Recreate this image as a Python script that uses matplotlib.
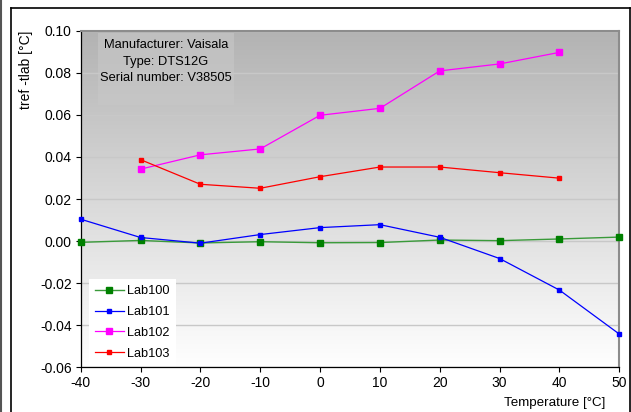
import numpy as np
import matplotlib
matplotlib.use("Agg")
import matplotlib.pyplot as plt
from matplotlib.patches import Rectangle
from matplotlib.lines import Line2D

plt.rcParams['font.family'] = ['Liberation Sans', 'DejaVu Sans']

temps = [-40, -30, -20, -10, 0, 10, 20, 30, 40, 50]
lab100 = [-0.0006, 0.0003, -0.0009, -0.0003, -0.0008, -0.0007, 0.0005, 0.0002, 0.0010, 0.0019]
lab101 = [0.0104, 0.0017, -0.0010, 0.0031, 0.0064, 0.0078, 0.0018, -0.0083, -0.0233, -0.0442]
temps_b = [-30, -20, -10, 0, 10, 20, 30, 40]
lab102 = [0.0342, 0.0410, 0.0438, 0.0598, 0.0631, 0.0809, 0.0842, 0.0897]
lab103 = [0.0387, 0.0270, 0.0251, 0.0306, 0.0352, 0.0352, 0.0325, 0.0299]
info_lines = ["Manufacturer: Vaisala", "Type: DTS12G", "Serial number: V38505"]
xticks = list(range(-40, 51, 10))
yticks = [-0.06, -0.04, -0.02, 0.00, 0.02, 0.04, 0.06, 0.08, 0.10]

fig = plt.figure(figsize=(6.31, 4.12), dpi=100)
W, H = 631, 412
ax = fig.add_axes([80.7 / W, 1 - 367.3 / H, (619.3 - 80.7) / W, (367.3 - 30.7) / H])

# gradient background
g = np.linspace(0.70, 1.0, 256)[:, None]
img = np.dstack([g, g, g])
ax.imshow(img, extent=[0, 1, 0, 1], transform=ax.transAxes, aspect='auto',
          origin='upper', zorder=0, interpolation='bilinear')

ax.set_xlim(-40, 50)
ax.set_ylim(-0.06, 0.10)
ax.set_xticks(xticks)
ax.set_xticklabels([str(t) for t in xticks])
ax.set_yticks(yticks)
ax.set_yticklabels([f"{v:.2f}" for v in yticks])
ax.grid(axis='y', color='#c8c8c8', linewidth=1.0, zorder=1)
ax.set_axisbelow(True)
ax.tick_params(axis='both', direction='out', length=3.5, width=0.8, labelsize=10,
               colors='black', pad=3)

for s in ['left', 'bottom']:
    ax.spines[s].set_color('black')
    ax.spines[s].set_linewidth(0.9)
for s in ['top', 'right']:
    ax.spines[s].set_color('#8c8c8c')
    ax.spines[s].set_linewidth(1.5)

ax.plot(temps, lab100, color='#3a9a3a', lw=1.0, marker='s', ms=4.5,
        mfc='#008000', mec='#008000', label='Lab100', zorder=3, clip_on=False)
ax.plot(temps, lab101, color='#0000ff', lw=0.9, marker='s', ms=3.0,
        mfc='#0000ff', mec='#0000ff', label='Lab101', zorder=3, clip_on=False)
ax.plot(temps_b, lab102, color='#ff00ff', lw=0.9, marker='s', ms=4.5,
        mfc='#ff00ff', mec='#ff00ff', label='Lab102', zorder=3)
ax.plot(temps_b, lab103, color='#ff0000', lw=0.9, marker='s', ms=3.0,
        mfc='#ff0000', mec='#ff0000', label='Lab103', zorder=3)

# info box
ax.add_patch(Rectangle(((98 - 80.7) / 538.6, (367.3 - 105) / 336.6),
                       136 / 538.6, 72 / 336.6, transform=ax.transAxes,
                       facecolor='#c8c8c8', edgecolor='none', alpha=0.6, zorder=2))
ax.text((166 - 80.7) / 538.6, (367.3 - 39) / 336.6, "\n".join(info_lines),
        transform=ax.transAxes, ha='center', va='top', fontsize=9.3,
        linespacing=1.5, zorder=4)

leg = ax.legend(loc='lower left', bbox_to_anchor=((89 - 80.7) / 538.6, 0.003),
                borderaxespad=0, frameon=True, fancybox=False, framealpha=1,
                facecolor='white', edgecolor='none', fontsize=9.2,
                handlelength=2.2, labelspacing=0.7, borderpad=0.5,
                handletextpad=0.3)
leg.set_zorder(5)

ax.set_ylabel("tref -tlab [°C]", loc='top', fontsize=10, labelpad=5)
fig.text(605 / W, 1 - 403 / H, "Temperature [°C]", ha='right', va='center', fontsize=9.6)

# outer frames
fig.add_artist(Line2D([10.5 / W, 10.5 / W], [0, 1 - 7.5 / H], transform=fig.transFigure,
                      color='black', lw=1.2))
fig.add_artist(Line2D([10.5 / W, 629.5 / W], [1 - 7.5 / H, 1 - 7.5 / H],
                      transform=fig.transFigure, color='black', lw=1.2))
fig.add_artist(Line2D([629.5 / W, 629.5 / W], [0, 1 - 7.5 / H], transform=fig.transFigure,
                      color='black', lw=1.2))
fig.add_artist(Line2D([1 / W, 1 / W], [0, 1], transform=fig.transFigure,
                      color='#555555', lw=1.5))

fig.savefig("out.png", dpi=100)
